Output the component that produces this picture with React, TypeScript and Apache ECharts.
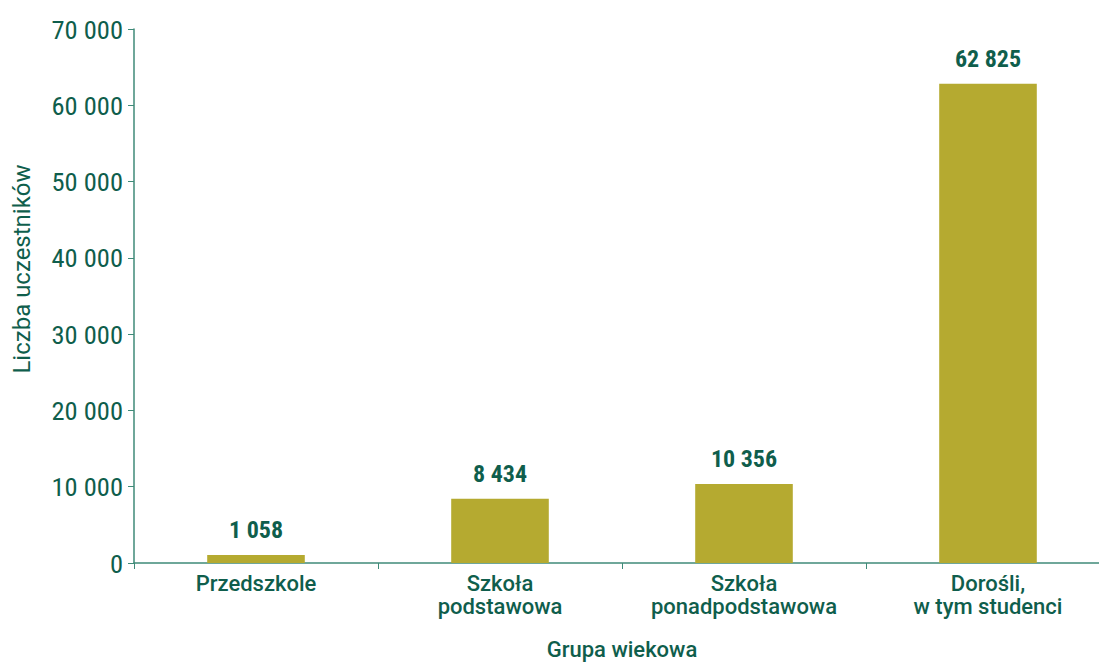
import React, { useEffect, useRef } from "react";
import * as echarts from "echarts";

const categories = ["Przedszkole", "Szkoła\npodstawowa", "Szkoła\nponadpodstawowa", "Dorośli,\nw tym studenci"];
const values = [1058, 8434, 10356, 62825];
const yTicks = { min: 0, max: 70000, interval: 10000 };

const GREEN = "#0f5e4c";
const AXIS = "#3f8a78";
const BAR = "#b5aa30";
const COND = "'Roboto Condensed', 'Liberation Sans Narrow', 'DejaVu Sans Condensed', sans-serif";

const fmt = (v: number) => String(v).replace(/\B(?=(\d{3})+(?!\d))/g, " ");

export default function App() {
  const ref = useRef<HTMLDivElement>(null);
  useEffect(() => {
    if (!ref.current) return;
    const chart = echarts.init(ref.current, undefined, { renderer: "svg" });
    chart.setOption({
      animation: false,
      grid: { left: 134, right: 0, top: 29, bottom: 99, containLabel: false, outerBoundsMode: "none" },
      xAxis: {
        type: "category",
        data: categories,
        name: "Grupa wiekowa",
        nameLocation: "middle",
        nameGap: 75,
        nameTextStyle: { color: GREEN, fontFamily: "Roboto", fontWeight: 500, fontSize: 22 },
        axisLine: { lineStyle: { color: AXIS, width: 1.5 } },
        axisTick: { show: true, length: 6, lineStyle: { color: AXIS } },
        axisLabel: {
          color: GREEN,
          fontFamily: "Roboto",
          fontWeight: 500,
          fontSize: 22,
          lineHeight: 23,
          margin: 9,
          interval: 0,
        },
      },
      yAxis: {
        type: "value",
        min: yTicks.min,
        max: yTicks.max,
        interval: yTicks.interval,
        name: "Liczba uczestników",
        nameLocation: "middle",
        nameGap: 100,
        nameTextStyle: { color: GREEN, fontFamily: "Roboto", fontSize: 24, padding: [0, 0, 0, 54] },
        axisLine: { show: true, lineStyle: { color: AXIS, width: 1.5 } },
        axisTick: { show: true, length: 6, lineStyle: { color: AXIS } },
        splitLine: { show: false },
        axisLabel: {
          color: GREEN,
          fontFamily: COND,
          fontSize: 26.5,
          margin: 11,
          formatter: (v: number) => fmt(v),
        },
      },
      series: [
        {
          type: "bar",
          data: values,
          barWidth: "40%",
          itemStyle: { color: BAR },
          label: {
            show: true,
            position: "top",
            distance: 13,
            color: GREEN,
            fontFamily: COND,
            fontWeight: "bold",
            fontSize: 24,
            formatter: (p: any) => fmt(p.value),
          },
        },
      ],
    });
    return () => chart.dispose();
  }, []);
  return (
    <div style={{ position: "absolute", left: 0, top: 0, width: 1099, height: 662, overflow: "hidden", background: "#fff" }}>
      <div ref={ref} style={{ width: 1110, height: 662 }} />
    </div>
  );
}
